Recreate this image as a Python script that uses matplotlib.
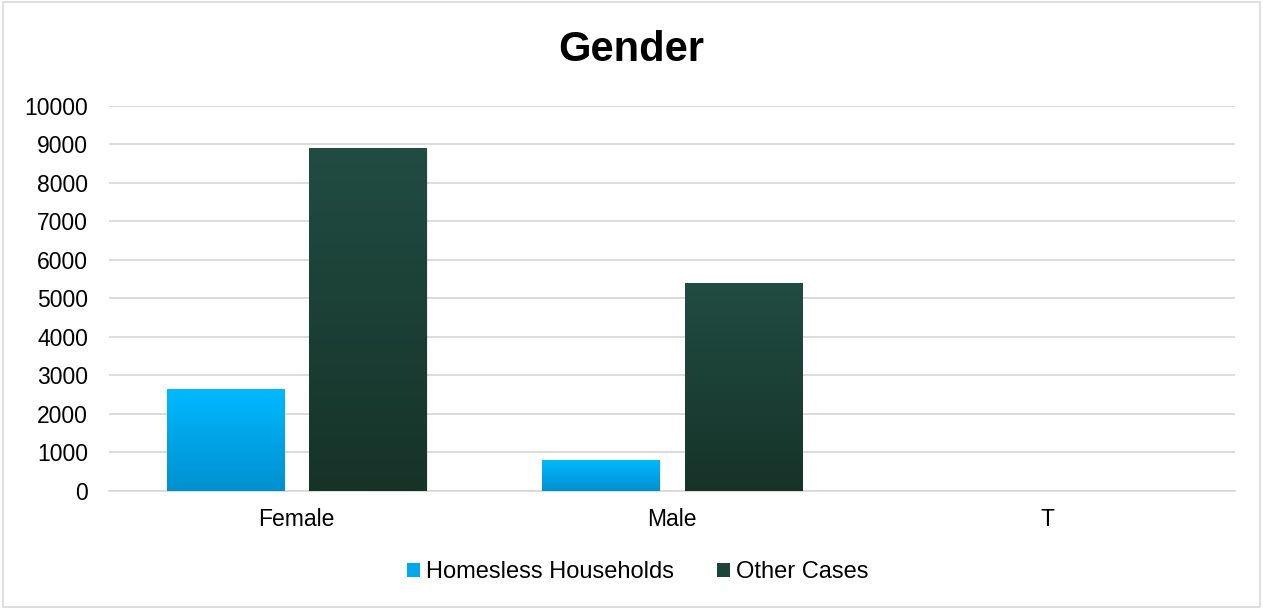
import numpy as np
import matplotlib.pyplot as plt
from matplotlib.patches import Rectangle
from matplotlib.colors import LinearSegmentedColormap

plt.rcParams['font.family'] = ['Liberation Sans', 'DejaVu Sans']

categories = ['Female', 'Male', 'T']
homeless = [2630, 780, 0]
other = [8890, 5380, 0]
series_names = ['Homesless Households', 'Other Cases']

fig = plt.figure(figsize=(12.63, 6.09), dpi=100)
# light frame round the chart
fig.patches.append(Rectangle((0.002, 0.003), 0.996, 0.994, transform=fig.transFigure,
                             fill=False, edgecolor='#D9D9D9', linewidth=1.2))

ax = fig.add_axes([0.0863, 0.1938, 0.8917, 0.6322])

x = np.arange(len(categories))
width = 0.312
offset = 0.19

blue_cmap = LinearSegmentedColormap.from_list('b', ['#0090CF', '#00B9FF'])
green_cmap = LinearSegmentedColormap.from_list('g', ['#163328', '#214C42'])
grad = np.linspace(0, 1, 256).reshape(-1, 1)

def gradient_bars(xs, vals, cmap):
    for xi, v in zip(xs, vals):
        if v <= 0:
            continue
        # soft shadow
        ax.add_patch(Rectangle((xi - width / 2 + 0.004, -40), width, v, facecolor='#000000',
                               alpha=0.08, linewidth=0, zorder=2))
        ax.imshow(grad, cmap=cmap, aspect='auto', origin='lower',
                  extent=(xi - width / 2, xi + width / 2, 0, v), zorder=3)

gradient_bars(x - offset, homeless, blue_cmap)
gradient_bars(x + offset, other, green_cmap)

ax.set_xlim(-0.5, len(categories) - 0.5)
ax.set_ylim(0, 10000)
ax.set_yticks(np.arange(0, 10001, 1000))
ax.set_xticks(x)
ax.set_xticklabels(categories)
ax.tick_params(axis='both', length=0, labelsize=16.5, colors='#000000')
ax.tick_params(axis='y', pad=15)
ax.tick_params(axis='x', pad=12)
ax.grid(axis='y', color='#D9D9D9', linewidth=1.3)
ax.set_axisbelow(True)
for s in ['top', 'right', 'left']:
    ax.spines[s].set_visible(False)
ax.spines['bottom'].set_color('#D9D9D9')
ax.spines['bottom'].set_linewidth(1.3)

fig.text(0.5, 0.918, 'Gender', ha='center', va='center', fontsize=30, fontweight='bold')

handles = [Rectangle((0, 0), 1, 1, facecolor='#00A8EC'), Rectangle((0, 0), 1, 1, facecolor='#1D443A')]
fig.legend(handles, series_names, loc='center', bbox_to_anchor=(0.505, 0.06), ncol=2,
           frameon=False, fontsize=17, handlelength=0.55, handleheight=0.55,
           handletextpad=0.25, columnspacing=1.8)

fig.savefig('out.png', dpi=100)
